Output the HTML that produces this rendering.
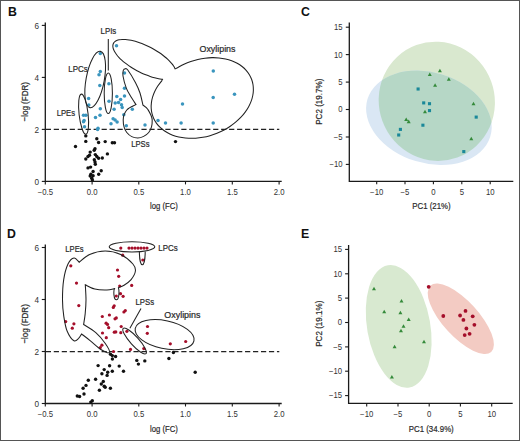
<!DOCTYPE html>
<html><head><meta charset="utf-8"><style>
html,body{margin:0;padding:0;background:#fff;}
svg{display:block;}
</style></head><body>
<svg width="520" height="441" viewBox="0 0 520 441" font-family="Liberation Sans, sans-serif">
<rect x="0" y="0" width="520" height="441" fill="#fff"/>
<text x="8.0" y="15.9" font-size="12.3" text-anchor="start" fill="#111" font-weight="bold" >B</text>
<text x="301.0" y="15.9" font-size="12.3" text-anchor="start" fill="#111" font-weight="bold" >C</text>
<text x="7.0" y="237.9" font-size="12.3" text-anchor="start" fill="#111" font-weight="bold" >D</text>
<text x="301.0" y="237.9" font-size="12.3" text-anchor="start" fill="#111" font-weight="bold" >E</text>
<path d="M45.3,22.400000000000006 V181.4 H281.7" fill="none" stroke="#1a1a1a" stroke-width="1.3"/>
<line x1="41.8" y1="181.4" x2="45.3" y2="181.4" stroke="#1a1a1a" stroke-width="1.1"/>
<line x1="41.8" y1="129.4" x2="45.3" y2="129.4" stroke="#1a1a1a" stroke-width="1.1"/>
<line x1="41.8" y1="77.4" x2="45.3" y2="77.4" stroke="#1a1a1a" stroke-width="1.1"/>
<line x1="41.8" y1="25.400000000000006" x2="45.3" y2="25.400000000000006" stroke="#1a1a1a" stroke-width="1.1"/>
<line x1="45.3" y1="181.4" x2="45.3" y2="184.4" stroke="#1a1a1a" stroke-width="1.1"/>
<line x1="92.1" y1="181.4" x2="92.1" y2="184.4" stroke="#1a1a1a" stroke-width="1.1"/>
<line x1="138.8" y1="181.4" x2="138.8" y2="184.4" stroke="#1a1a1a" stroke-width="1.1"/>
<line x1="185.5" y1="181.4" x2="185.5" y2="184.4" stroke="#1a1a1a" stroke-width="1.1"/>
<line x1="232.3" y1="181.4" x2="232.3" y2="184.4" stroke="#1a1a1a" stroke-width="1.1"/>
<line x1="279.1" y1="181.4" x2="279.1" y2="184.4" stroke="#1a1a1a" stroke-width="1.1"/>
<text x="39" y="184.70000000000002" font-size="8.2" text-anchor="end" fill="#333" font-weight="normal" >0</text>
<text x="39" y="132.70000000000002" font-size="8.2" text-anchor="end" fill="#333" font-weight="normal" >2</text>
<text x="39" y="80.7" font-size="8.2" text-anchor="end" fill="#333" font-weight="normal" >4</text>
<text x="39" y="28.700000000000006" font-size="8.2" text-anchor="end" fill="#333" font-weight="normal" >6</text>
<text transform="translate(45.3,195.20000000000002) scale(0.95,1)" font-size="8.2" text-anchor="middle" fill="#333" font-weight="normal" >−0.5</text>
<text transform="translate(92.1,195.20000000000002) scale(0.95,1)" font-size="8.2" text-anchor="middle" fill="#333" font-weight="normal" >0.0</text>
<text transform="translate(138.8,195.20000000000002) scale(0.95,1)" font-size="8.2" text-anchor="middle" fill="#333" font-weight="normal" >0.5</text>
<text transform="translate(185.5,195.20000000000002) scale(0.95,1)" font-size="8.2" text-anchor="middle" fill="#333" font-weight="normal" >1.0</text>
<text transform="translate(232.3,195.20000000000002) scale(0.95,1)" font-size="8.2" text-anchor="middle" fill="#333" font-weight="normal" >1.5</text>
<text transform="translate(279.1,195.20000000000002) scale(0.95,1)" font-size="8.2" text-anchor="middle" fill="#333" font-weight="normal" >2.0</text>
<text x="149.95000000000002" y="209.4" font-size="9.8" textLength="27.9" lengthAdjust="spacingAndGlyphs" fill="#2a2a2a" stroke="#2a2a2a" stroke-width="0.22">log (FC)</text>
<text transform="translate(28.1,101.80000000000001) rotate(-90)" x="-19.7" y="0" font-size="9.8" textLength="39.4" lengthAdjust="spacingAndGlyphs" fill="#2a2a2a" stroke="#2a2a2a" stroke-width="0.22">−log (FDR)</text>
<line x1="45.8" y1="129.4" x2="279.3" y2="129.4" stroke="#222" stroke-width="1.25" stroke-dasharray="5.2 2.77"/>
<circle cx="116.5" cy="45.8" r="1.75" fill="#3a95be"/>
<circle cx="100.3" cy="53.5" r="1.75" fill="#3a95be"/>
<circle cx="100.3" cy="71.5" r="1.75" fill="#3a95be"/>
<circle cx="99.0" cy="74.8" r="1.75" fill="#3a95be"/>
<circle cx="108.9" cy="83.8" r="1.75" fill="#3a95be"/>
<circle cx="99.8" cy="85.5" r="1.75" fill="#3a95be"/>
<circle cx="124.5" cy="73.1" r="1.75" fill="#3a95be"/>
<circle cx="124.5" cy="88.3" r="1.75" fill="#3a95be"/>
<circle cx="124.5" cy="95.9" r="1.75" fill="#3a95be"/>
<circle cx="88.6" cy="98.4" r="1.75" fill="#3a95be"/>
<circle cx="88.8" cy="105.1" r="1.75" fill="#3a95be"/>
<circle cx="109" cy="101.3" r="1.75" fill="#3a95be"/>
<circle cx="116.8" cy="96.6" r="1.75" fill="#3a95be"/>
<circle cx="120.6" cy="99.4" r="1.75" fill="#3a95be"/>
<circle cx="115.2" cy="103" r="1.75" fill="#3a95be"/>
<circle cx="118.5" cy="102.5" r="1.75" fill="#3a95be"/>
<circle cx="121.5" cy="104.8" r="1.75" fill="#3a95be"/>
<circle cx="122.2" cy="107.4" r="1.75" fill="#3a95be"/>
<circle cx="114.1" cy="109.3" r="1.75" fill="#3a95be"/>
<circle cx="132.3" cy="109.3" r="1.75" fill="#3a95be"/>
<circle cx="100.3" cy="108.8" r="1.75" fill="#3a95be"/>
<circle cx="100" cy="115.2" r="1.75" fill="#3a95be"/>
<circle cx="95.5" cy="117.6" r="1.75" fill="#3a95be"/>
<circle cx="83.5" cy="115.3" r="1.75" fill="#3a95be"/>
<circle cx="85.9" cy="115.3" r="1.75" fill="#3a95be"/>
<circle cx="84.1" cy="120.4" r="1.75" fill="#3a95be"/>
<circle cx="83.5" cy="121.7" r="1.75" fill="#3a95be"/>
<circle cx="84.5" cy="126.8" r="1.75" fill="#3a95be"/>
<circle cx="113.1" cy="118.8" r="1.75" fill="#3a95be"/>
<circle cx="115.1" cy="120.1" r="1.75" fill="#3a95be"/>
<circle cx="117.1" cy="122" r="1.75" fill="#3a95be"/>
<circle cx="111" cy="123.7" r="1.75" fill="#3a95be"/>
<circle cx="98" cy="128.2" r="1.75" fill="#3a95be"/>
<circle cx="97.6" cy="129.5" r="1.75" fill="#3a95be"/>
<circle cx="123.8" cy="114.7" r="1.75" fill="#3a95be"/>
<circle cx="126.3" cy="125.8" r="1.75" fill="#3a95be"/>
<circle cx="213.3" cy="71.0" r="1.75" fill="#3a95be"/>
<circle cx="213.2" cy="97.5" r="1.75" fill="#3a95be"/>
<circle cx="234.5" cy="94.3" r="1.75" fill="#3a95be"/>
<circle cx="182.5" cy="104" r="1.75" fill="#3a95be"/>
<circle cx="158" cy="120.5" r="1.75" fill="#3a95be"/>
<circle cx="165.5" cy="123" r="1.75" fill="#3a95be"/>
<circle cx="181.1" cy="122.9" r="1.75" fill="#3a95be"/>
<circle cx="213.2" cy="122.9" r="1.75" fill="#3a95be"/>
<circle cx="145" cy="125" r="1.75" fill="#3a95be"/>
<circle cx="85.8" cy="135.9" r="1.7" fill="#111"/>
<circle cx="85.8" cy="141.4" r="1.7" fill="#111"/>
<circle cx="75.5" cy="146.5" r="1.7" fill="#111"/>
<circle cx="96.8" cy="138.7" r="1.7" fill="#111"/>
<circle cx="98.6" cy="142.5" r="1.7" fill="#111"/>
<circle cx="105.2" cy="141.6" r="1.7" fill="#111"/>
<circle cx="112.3" cy="142.8" r="1.7" fill="#111"/>
<circle cx="114.5" cy="142.8" r="1.7" fill="#111"/>
<circle cx="95" cy="148.7" r="1.7" fill="#111"/>
<circle cx="94.2" cy="150.2" r="1.7" fill="#111"/>
<circle cx="90.2" cy="152.1" r="1.7" fill="#111"/>
<circle cx="89.5" cy="155.3" r="1.7" fill="#111"/>
<circle cx="95.3" cy="154.6" r="1.7" fill="#111"/>
<circle cx="96.8" cy="156.5" r="1.7" fill="#111"/>
<circle cx="88" cy="156.5" r="1.7" fill="#111"/>
<circle cx="85.8" cy="159" r="1.7" fill="#111"/>
<circle cx="98.6" cy="158.3" r="1.7" fill="#111"/>
<circle cx="102.3" cy="158" r="1.7" fill="#111"/>
<circle cx="107.4" cy="153.9" r="1.7" fill="#111"/>
<circle cx="94.3" cy="159.8" r="1.7" fill="#111"/>
<circle cx="95" cy="162" r="1.7" fill="#111"/>
<circle cx="95.3" cy="164.2" r="1.7" fill="#111"/>
<circle cx="88" cy="167.9" r="1.7" fill="#111"/>
<circle cx="90.6" cy="167.1" r="1.7" fill="#111"/>
<circle cx="93.1" cy="171.5" r="1.7" fill="#111"/>
<circle cx="101.2" cy="170.8" r="1.7" fill="#111"/>
<circle cx="98.7" cy="174.2" r="1.7" fill="#111"/>
<circle cx="90.9" cy="174.2" r="1.7" fill="#111"/>
<circle cx="93.1" cy="175.7" r="1.7" fill="#111"/>
<circle cx="90.2" cy="176" r="1.7" fill="#111"/>
<circle cx="91.7" cy="178.2" r="1.7" fill="#111"/>
<circle cx="92.4" cy="180" r="1.7" fill="#111"/>
<circle cx="175.5" cy="141.6" r="1.7" fill="#111"/>
<ellipse cx="0" cy="0" rx="4.5" ry="20.2" transform="translate(83.6,114.2) rotate(-6.5)" fill="none" stroke="#222" stroke-width="1.05"/>
<ellipse cx="0" cy="0" rx="9.1" ry="28.6" transform="translate(95.2,79.5) rotate(10.5)" fill="none" stroke="#222" stroke-width="1.05"/>
<ellipse cx="0" cy="0" rx="4.1" ry="20.3" transform="translate(108.3,93.2) rotate(0)" fill="none" stroke="#222" stroke-width="1.05"/>
<line x1="108.3" y1="39" x2="108.3" y2="70.5" stroke="#222" stroke-width="1.05"/>
<path d="M162.47,79.31 C161.83,79.22 159.96,79.00 158.64,78.75 C157.32,78.50 155.93,78.18 154.53,77.81 C153.13,77.43 151.67,77.00 150.22,76.50 C148.76,76.01 147.27,75.46 145.79,74.86 C144.31,74.26 142.81,73.60 141.34,72.91 C139.87,72.21 138.39,71.47 136.95,70.69 C135.51,69.92 134.08,69.09 132.71,68.25 C131.33,67.41 129.99,66.53 128.70,65.64 C127.42,64.75 126.17,63.83 125.01,62.90 C123.84,61.98 122.72,61.03 121.70,60.10 C120.67,59.16 119.71,58.21 118.84,57.28 C117.97,56.35 117.18,55.41 116.49,54.50 C115.80,53.60 115.19,52.70 114.69,51.83 C114.19,50.96 113.79,50.11 113.49,49.30 C113.19,48.50 112.99,47.71 112.90,46.98 C112.81,46.25 112.82,45.55 112.94,44.91 C113.05,44.26 113.27,43.66 113.60,43.12 C113.92,42.58 114.35,42.08 114.87,41.66 C115.39,41.23 116.02,40.85 116.73,40.55 C117.44,40.24 118.25,39.99 119.14,39.81 C120.03,39.63 121.01,39.52 122.05,39.47 C123.10,39.42 124.23,39.44 125.41,39.52 C126.59,39.60 127.85,39.75 129.15,39.97 C130.44,40.18 131.80,40.46 133.19,40.80 C134.57,41.14 136.00,41.55 137.45,42.01 C138.89,42.46 140.37,42.99 141.85,43.56 C143.33,44.13 144.82,44.75 146.30,45.42 C147.78,46.09 149.27,46.81 150.72,47.57 C152.17,48.32 153.62,49.12 155.01,49.95 C156.41,50.77 157.78,51.64 159.10,52.52 C160.41,53.40 161.69,54.31 162.89,55.22 C164.09,56.14 165.25,57.08 166.32,58.01 C167.39,58.95 168.39,59.90 169.31,60.83 C170.23,61.77 171.07,62.71 171.81,63.63 C172.55,64.54 173.21,65.46 173.77,66.34 C174.33,67.22 174.92,68.48 175.15,68.91 L177.50,67.68 C178.58,67.11 181.76,65.30 183.98,64.27 C186.19,63.24 188.49,62.31 190.81,61.51 C193.12,60.70 195.50,60.01 197.86,59.46 C200.23,58.90 202.63,58.46 205.00,58.16 C207.37,57.86 209.76,57.68 212.09,57.64 C214.42,57.60 216.74,57.69 218.99,57.91 C221.23,58.13 223.44,58.48 225.55,58.96 C227.67,59.44 229.73,60.05 231.67,60.77 C233.61,61.50 235.48,62.35 237.21,63.31 C238.94,64.27 240.58,65.35 242.07,66.53 C243.56,67.70 244.93,68.99 246.15,70.36 C247.37,71.72 248.46,73.19 249.38,74.73 C250.30,76.26 251.08,77.88 251.68,79.55 C252.29,81.22 252.74,82.96 253.02,84.73 C253.31,86.50 253.42,88.33 253.37,90.17 C253.32,92.01 253.11,93.89 252.73,95.77 C252.35,97.64 251.80,99.54 251.09,101.40 C250.39,103.27 249.52,105.15 248.51,106.97 C247.50,108.80 246.32,110.62 245.02,112.37 C243.72,114.12 242.26,115.84 240.70,117.48 C239.13,119.12 237.42,120.72 235.63,122.21 C233.83,123.71 231.90,125.15 229.90,126.47 C227.90,127.80 225.79,129.05 223.64,130.18 C221.48,131.31 219.23,132.34 216.96,133.25 C214.68,134.16 212.34,134.97 209.99,135.64 C207.64,136.31 205.25,136.87 202.87,137.29 C200.50,137.71 198.10,138.01 195.74,138.17 C193.39,138.34 191.03,138.37 188.74,138.27 C186.45,138.17 184.18,137.94 182.00,137.59 C179.82,137.23 177.69,136.74 175.66,136.13 C173.63,135.51 171.67,134.77 169.84,133.92 C168.00,133.07 166.25,132.09 164.65,131.01 C163.04,129.94 161.54,128.74 160.19,127.46 C158.84,126.18 157.62,124.79 156.56,123.33 C155.49,121.88 154.57,120.32 153.82,118.71 C153.06,117.10 152.45,115.41 152.02,113.69 C151.58,111.96 151.31,110.16 151.21,108.35 C151.10,106.54 151.16,104.68 151.39,102.82 C151.61,100.95 152.01,99.06 152.56,97.19 C153.12,95.31 153.84,93.42 154.71,91.57 C155.58,89.72 156.61,87.87 157.78,86.08 C158.95,84.29 161.07,81.70 161.73,80.82 Z" fill="none" stroke="#222" stroke-width="1.05"/>
<path d="M136.00,104.60 C135.08,103.17 132.12,98.75 130.50,96.00 C128.88,93.25 127.55,91.43 126.30,88.10 C125.05,84.77 123.50,78.97 123.00,76.00 C122.50,73.03 122.90,71.52 123.30,70.30 C123.70,69.08 124.68,68.78 125.40,68.70 C126.12,68.62 125.93,67.52 127.60,69.80 C129.27,72.08 133.33,78.53 135.40,82.40 C137.47,86.27 138.75,89.23 140.00,93.00 C141.25,96.77 142.42,103.00 142.90,105.00 C143.73,105.75 146.35,107.00 147.90,109.50 C149.45,112.00 152.07,116.17 152.20,120.00 C152.33,123.83 151.12,129.50 148.70,132.50 C146.28,135.50 141.35,138.00 137.70,138.00 C134.05,138.00 129.22,135.50 126.80,132.50 C124.38,129.50 123.20,123.75 123.20,120.00 C123.20,116.25 124.67,112.57 126.80,110.00 C128.93,107.43 134.47,105.50 136.00,104.60 Z" fill="none" stroke="#222" stroke-width="1.05"/>
<text x="68.25" y="72" font-size="9" textLength="19.5" lengthAdjust="spacingAndGlyphs" fill="#2a2a2a" stroke="#2a2a2a" stroke-width="0.22">LPCs</text>
<text x="100.55" y="33.9" font-size="9" textLength="15.700000000000001" lengthAdjust="spacingAndGlyphs" fill="#2a2a2a" stroke="#2a2a2a" stroke-width="0.22">LPIs</text>
<text x="56.65" y="116" font-size="9" textLength="18.4" lengthAdjust="spacingAndGlyphs" fill="#2a2a2a" stroke="#2a2a2a" stroke-width="0.22">LPEs</text>
<text x="131.25" y="147" font-size="9" textLength="18.299999999999997" lengthAdjust="spacingAndGlyphs" fill="#2a2a2a" stroke="#2a2a2a" stroke-width="0.22">LPSs</text>
<text x="199.55" y="51.7" font-size="9" textLength="35.9" lengthAdjust="spacingAndGlyphs" fill="#2a2a2a" stroke="#2a2a2a" stroke-width="0.22">Oxylipins</text>
<path d="M45.3,244.5 V403.5 H281.7" fill="none" stroke="#1a1a1a" stroke-width="1.3"/>
<line x1="41.8" y1="403.5" x2="45.3" y2="403.5" stroke="#1a1a1a" stroke-width="1.1"/>
<line x1="41.8" y1="351.5" x2="45.3" y2="351.5" stroke="#1a1a1a" stroke-width="1.1"/>
<line x1="41.8" y1="299.5" x2="45.3" y2="299.5" stroke="#1a1a1a" stroke-width="1.1"/>
<line x1="41.8" y1="247.5" x2="45.3" y2="247.5" stroke="#1a1a1a" stroke-width="1.1"/>
<line x1="45.3" y1="403.5" x2="45.3" y2="406.5" stroke="#1a1a1a" stroke-width="1.1"/>
<line x1="92.1" y1="403.5" x2="92.1" y2="406.5" stroke="#1a1a1a" stroke-width="1.1"/>
<line x1="138.8" y1="403.5" x2="138.8" y2="406.5" stroke="#1a1a1a" stroke-width="1.1"/>
<line x1="185.5" y1="403.5" x2="185.5" y2="406.5" stroke="#1a1a1a" stroke-width="1.1"/>
<line x1="232.3" y1="403.5" x2="232.3" y2="406.5" stroke="#1a1a1a" stroke-width="1.1"/>
<line x1="279.1" y1="403.5" x2="279.1" y2="406.5" stroke="#1a1a1a" stroke-width="1.1"/>
<text x="39" y="406.8" font-size="8.2" text-anchor="end" fill="#333" font-weight="normal" >0</text>
<text x="39" y="354.8" font-size="8.2" text-anchor="end" fill="#333" font-weight="normal" >2</text>
<text x="39" y="302.8" font-size="8.2" text-anchor="end" fill="#333" font-weight="normal" >4</text>
<text x="39" y="250.8" font-size="8.2" text-anchor="end" fill="#333" font-weight="normal" >6</text>
<text transform="translate(45.3,417.3) scale(0.95,1)" font-size="8.2" text-anchor="middle" fill="#333" font-weight="normal" >−0.5</text>
<text transform="translate(92.1,417.3) scale(0.95,1)" font-size="8.2" text-anchor="middle" fill="#333" font-weight="normal" >0.0</text>
<text transform="translate(138.8,417.3) scale(0.95,1)" font-size="8.2" text-anchor="middle" fill="#333" font-weight="normal" >0.5</text>
<text transform="translate(185.5,417.3) scale(0.95,1)" font-size="8.2" text-anchor="middle" fill="#333" font-weight="normal" >1.0</text>
<text transform="translate(232.3,417.3) scale(0.95,1)" font-size="8.2" text-anchor="middle" fill="#333" font-weight="normal" >1.5</text>
<text transform="translate(279.1,417.3) scale(0.95,1)" font-size="8.2" text-anchor="middle" fill="#333" font-weight="normal" >2.0</text>
<text x="149.95000000000002" y="431.5" font-size="9.8" textLength="27.9" lengthAdjust="spacingAndGlyphs" fill="#2a2a2a" stroke="#2a2a2a" stroke-width="0.22">log (FC)</text>
<text transform="translate(28.1,323.9) rotate(-90)" x="-19.7" y="0" font-size="9.8" textLength="39.4" lengthAdjust="spacingAndGlyphs" fill="#2a2a2a" stroke="#2a2a2a" stroke-width="0.22">−log (FDR)</text>
<line x1="45.8" y1="351.5" x2="279.3" y2="351.5" stroke="#222" stroke-width="1.25" stroke-dasharray="5.2 2.77"/>
<circle cx="120.8" cy="248.1" r="1.6" fill="#a50e2a"/>
<circle cx="129" cy="248.1" r="1.6" fill="#a50e2a"/>
<circle cx="132" cy="248.1" r="1.6" fill="#a50e2a"/>
<circle cx="135" cy="248.1" r="1.6" fill="#a50e2a"/>
<circle cx="138" cy="248.1" r="1.6" fill="#a50e2a"/>
<circle cx="141" cy="248.1" r="1.6" fill="#a50e2a"/>
<circle cx="144" cy="248.1" r="1.6" fill="#a50e2a"/>
<circle cx="147" cy="248.1" r="1.6" fill="#a50e2a"/>
<circle cx="142.8" cy="260" r="1.6" fill="#a50e2a"/>
<circle cx="122.7" cy="255.2" r="1.6" fill="#a50e2a"/>
<circle cx="70.8" cy="265.8" r="1.6" fill="#a50e2a"/>
<circle cx="117.5" cy="270" r="1.6" fill="#a50e2a"/>
<circle cx="118.7" cy="276.3" r="1.6" fill="#a50e2a"/>
<circle cx="76.5" cy="283.1" r="1.6" fill="#a50e2a"/>
<circle cx="119.7" cy="286" r="1.6" fill="#a50e2a"/>
<circle cx="131.7" cy="285.4" r="1.6" fill="#a50e2a"/>
<circle cx="116.3" cy="296" r="1.6" fill="#a50e2a"/>
<circle cx="120.5" cy="293.7" r="1.6" fill="#a50e2a"/>
<circle cx="123.1" cy="296.3" r="1.6" fill="#a50e2a"/>
<circle cx="78.8" cy="305.6" r="1.6" fill="#a50e2a"/>
<circle cx="114.2" cy="305.8" r="1.6" fill="#a50e2a"/>
<circle cx="113.3" cy="307.4" r="1.6" fill="#a50e2a"/>
<circle cx="125.3" cy="310.6" r="1.6" fill="#a50e2a"/>
<circle cx="123.9" cy="312" r="1.6" fill="#a50e2a"/>
<circle cx="109.4" cy="315" r="1.6" fill="#a50e2a"/>
<circle cx="102.3" cy="316.5" r="1.6" fill="#a50e2a"/>
<circle cx="116.3" cy="317.9" r="1.6" fill="#a50e2a"/>
<circle cx="115" cy="318.8" r="1.6" fill="#a50e2a"/>
<circle cx="65.7" cy="321.6" r="1.6" fill="#a50e2a"/>
<circle cx="73.9" cy="323.8" r="1.6" fill="#a50e2a"/>
<circle cx="72.3" cy="328.2" r="1.6" fill="#a50e2a"/>
<circle cx="106.1" cy="323.2" r="1.6" fill="#a50e2a"/>
<circle cx="107.5" cy="324.4" r="1.6" fill="#a50e2a"/>
<circle cx="108.7" cy="327.7" r="1.6" fill="#a50e2a"/>
<circle cx="102.5" cy="333" r="1.6" fill="#a50e2a"/>
<circle cx="114.3" cy="332.2" r="1.6" fill="#a50e2a"/>
<circle cx="115.8" cy="331.9" r="1.6" fill="#a50e2a"/>
<circle cx="121.2" cy="326.5" r="1.6" fill="#a50e2a"/>
<circle cx="120.8" cy="332.7" r="1.6" fill="#a50e2a"/>
<circle cx="126.9" cy="331.3" r="1.6" fill="#a50e2a"/>
<circle cx="106.3" cy="337.7" r="1.6" fill="#a50e2a"/>
<circle cx="101.9" cy="345.2" r="1.6" fill="#a50e2a"/>
<circle cx="100.3" cy="347.6" r="1.6" fill="#a50e2a"/>
<circle cx="130.5" cy="349.4" r="1.6" fill="#a50e2a"/>
<circle cx="143.8" cy="348.6" r="1.6" fill="#a50e2a"/>
<circle cx="147.5" cy="326.5" r="1.6" fill="#a50e2a"/>
<circle cx="147.3" cy="333.3" r="1.6" fill="#a50e2a"/>
<circle cx="113.5" cy="351.5" r="1.6" fill="#a50e2a"/>
<circle cx="170.3" cy="343.8" r="1.6" fill="#a50e2a"/>
<circle cx="185.7" cy="341.5" r="1.6" fill="#a50e2a"/>
<circle cx="110.5" cy="354.3" r="1.7" fill="#111"/>
<circle cx="112.3" cy="355.6" r="1.7" fill="#111"/>
<circle cx="115.6" cy="356.5" r="1.7" fill="#111"/>
<circle cx="112.4" cy="359" r="1.7" fill="#111"/>
<circle cx="98.1" cy="365.6" r="1.7" fill="#111"/>
<circle cx="109.6" cy="365.8" r="1.7" fill="#111"/>
<circle cx="119.2" cy="366.1" r="1.7" fill="#111"/>
<circle cx="123.5" cy="371.3" r="1.7" fill="#111"/>
<circle cx="104.2" cy="369.6" r="1.7" fill="#111"/>
<circle cx="101.9" cy="373.8" r="1.7" fill="#111"/>
<circle cx="107.7" cy="372.3" r="1.7" fill="#111"/>
<circle cx="107.1" cy="375.4" r="1.7" fill="#111"/>
<circle cx="112.3" cy="371.3" r="1.7" fill="#111"/>
<circle cx="88.3" cy="380.2" r="1.7" fill="#111"/>
<circle cx="95.6" cy="379.2" r="1.7" fill="#111"/>
<circle cx="103.3" cy="381.5" r="1.7" fill="#111"/>
<circle cx="101.3" cy="384" r="1.7" fill="#111"/>
<circle cx="104.2" cy="386.3" r="1.7" fill="#111"/>
<circle cx="105.2" cy="387.3" r="1.7" fill="#111"/>
<circle cx="86" cy="385.4" r="1.7" fill="#111"/>
<circle cx="83.1" cy="388.3" r="1.7" fill="#111"/>
<circle cx="99.4" cy="390.2" r="1.7" fill="#111"/>
<circle cx="110.4" cy="388.3" r="1.7" fill="#111"/>
<circle cx="84" cy="394" r="1.7" fill="#111"/>
<circle cx="77.3" cy="396" r="1.7" fill="#111"/>
<circle cx="79.6" cy="396.5" r="1.7" fill="#111"/>
<circle cx="92.3" cy="400.8" r="1.7" fill="#111"/>
<circle cx="90.8" cy="402.1" r="1.7" fill="#111"/>
<circle cx="136.8" cy="360.4" r="1.7" fill="#111"/>
<circle cx="138.4" cy="364.1" r="1.7" fill="#111"/>
<circle cx="144.8" cy="360.9" r="1.7" fill="#111"/>
<circle cx="173.4" cy="352.5" r="1.7" fill="#111"/>
<circle cx="168.9" cy="358.5" r="1.7" fill="#111"/>
<circle cx="195.2" cy="372.3" r="1.7" fill="#111"/>
<ellipse cx="0" cy="0" rx="22.8" ry="5.1" transform="translate(132,246.8) rotate(0)" fill="none" stroke="#222" stroke-width="1.05"/>
<path d="M139.4,251.6 C139.4,258 140.5,264.8 142.3,264.8 C144.1,264.8 145.2,258 145.2,251.6" fill="none" stroke="#222" stroke-width="1.05"/>
<path d="M81.60,334.00 C81.13,334.68 80.07,336.97 78.80,338.10 C77.53,339.23 75.93,341.93 74.00,340.80 C72.07,339.67 68.90,335.38 67.20,331.30 C65.50,327.22 64.58,321.52 63.80,316.30 C63.02,311.08 62.52,306.12 62.50,300.00 C62.48,293.88 62.78,285.60 63.70,279.60 C64.62,273.60 66.28,267.60 68.00,264.00 C69.72,260.40 72.13,258.28 74.00,258.00 C75.87,257.72 78.33,261.58 79.20,262.30 C80.93,261.00 85.27,256.38 89.60,254.50 C93.93,252.62 100.02,251.00 105.20,251.00 C110.38,251.00 116.08,252.33 120.70,254.50 C125.32,256.67 130.45,261.25 132.90,264.00 C135.35,266.75 135.70,268.40 135.40,271.00 C135.10,273.60 133.00,277.23 131.10,279.60 C129.20,281.97 126.12,283.85 124.00,285.20 C121.88,286.55 119.33,287.28 118.40,287.70 C119.4,291 119.2,299.8 116.4,299.8 C113.6,299.8 113.4,291 114.5,288.6 C113.23,288.83 110.18,289.92 106.90,290.00 C103.62,290.08 98.40,289.97 94.80,289.10 C91.20,288.23 86.88,285.52 85.30,284.80 C85.42,287.33 86.02,295.20 86.00,300.00 C85.98,304.80 85.60,309.52 85.20,313.60 C84.80,317.68 83.87,322.68 83.60,324.50 C85.63,325.87 92.18,329.53 95.80,332.70 C99.42,335.87 103.03,340.22 105.30,343.50 C107.57,346.78 110.07,351.37 109.40,352.40 C108.73,353.43 104.47,351.63 101.30,349.70 C98.13,347.77 93.68,343.42 90.40,340.80 C87.12,338.18 83.07,335.13 81.60,334.00 Z" fill="none" stroke="#222" stroke-width="1.05"/>
<ellipse cx="0" cy="0" rx="17" ry="4.3" transform="translate(134.6,341) rotate(48)" fill="none" stroke="#222" stroke-width="1.05"/>
<line x1="141" y1="308.6" x2="129.9" y2="328.2" stroke="#222" stroke-width="1.05"/>
<ellipse cx="0" cy="0" rx="30" ry="14" transform="translate(164.6,334.6) rotate(12)" fill="none" stroke="#222" stroke-width="1.05"/>
<text x="65.35" y="252.1" font-size="9" textLength="18.2" lengthAdjust="spacingAndGlyphs" fill="#2a2a2a" stroke="#2a2a2a" stroke-width="0.22">LPEs</text>
<text x="158.25" y="251.1" font-size="9" textLength="19.4" lengthAdjust="spacingAndGlyphs" fill="#2a2a2a" stroke="#2a2a2a" stroke-width="0.22">LPCs</text>
<text x="135.45000000000002" y="305" font-size="9" textLength="18.599999999999998" lengthAdjust="spacingAndGlyphs" fill="#2a2a2a" stroke="#2a2a2a" stroke-width="0.22">LPSs</text>
<text x="164.35000000000002" y="317.7" font-size="9" textLength="36.1" lengthAdjust="spacingAndGlyphs" fill="#2a2a2a" stroke="#2a2a2a" stroke-width="0.22">Oxylipins</text>
<defs><clipPath id="gclip"><ellipse cx="0" cy="0" rx="57.9" ry="59.8" transform="translate(436.8,101.3) rotate(-20)"/></clipPath></defs>
<ellipse cx="0" cy="0" rx="57.9" ry="59.8" transform="translate(436.8,101.3) rotate(-20)" fill="#d9e8cf"/>
<ellipse cx="0" cy="0" rx="64.2" ry="45.3" transform="translate(428.9,117.8) rotate(17)" fill="#dae7f4"/>
<g clip-path="url(#gclip)"><ellipse cx="0" cy="0" rx="64.2" ry="45.3" transform="translate(428.9,117.8) rotate(17)" fill="#b6d7c6"/></g>
<path d="M349.3,22.4 V181.3 H513.3" fill="none" stroke="#1a1a1a" stroke-width="1.3"/>
<line x1="345.8" y1="27.2" x2="349.3" y2="27.2" stroke="#1a1a1a" stroke-width="1.1"/>
<line x1="345.8" y1="54.6" x2="349.3" y2="54.6" stroke="#1a1a1a" stroke-width="1.1"/>
<line x1="345.8" y1="82.1" x2="349.3" y2="82.1" stroke="#1a1a1a" stroke-width="1.1"/>
<line x1="345.8" y1="109.5" x2="349.3" y2="109.5" stroke="#1a1a1a" stroke-width="1.1"/>
<line x1="345.8" y1="137.0" x2="349.3" y2="137.0" stroke="#1a1a1a" stroke-width="1.1"/>
<line x1="345.8" y1="164.4" x2="349.3" y2="164.4" stroke="#1a1a1a" stroke-width="1.1"/>
<line x1="376.7" y1="181.3" x2="376.7" y2="184.3" stroke="#1a1a1a" stroke-width="1.1"/>
<line x1="405" y1="181.3" x2="405" y2="184.3" stroke="#1a1a1a" stroke-width="1.1"/>
<line x1="433.4" y1="181.3" x2="433.4" y2="184.3" stroke="#1a1a1a" stroke-width="1.1"/>
<line x1="461.8" y1="181.3" x2="461.8" y2="184.3" stroke="#1a1a1a" stroke-width="1.1"/>
<line x1="490.2" y1="181.3" x2="490.2" y2="184.3" stroke="#1a1a1a" stroke-width="1.1"/>
<text transform="translate(342.5,30.099999999999998) scale(0.93,1)" font-size="8.3" text-anchor="end" fill="#333" font-weight="normal" >15</text>
<text transform="translate(342.5,57.5) scale(0.93,1)" font-size="8.3" text-anchor="end" fill="#333" font-weight="normal" >10</text>
<text transform="translate(342.5,85.0) scale(0.93,1)" font-size="8.3" text-anchor="end" fill="#333" font-weight="normal" >5</text>
<text transform="translate(342.5,112.4) scale(0.93,1)" font-size="8.3" text-anchor="end" fill="#333" font-weight="normal" >0</text>
<text transform="translate(342.5,139.9) scale(0.93,1)" font-size="8.3" text-anchor="end" fill="#333" font-weight="normal" >−5</text>
<text transform="translate(342.5,167.3) scale(0.93,1)" font-size="8.3" text-anchor="end" fill="#333" font-weight="normal" >−10</text>
<text transform="translate(376.7,194.5) scale(0.95,1)" font-size="8.2" text-anchor="middle" fill="#333" font-weight="normal" >−10</text>
<text transform="translate(405,194.5) scale(0.95,1)" font-size="8.2" text-anchor="middle" fill="#333" font-weight="normal" >−5</text>
<text transform="translate(433.4,194.5) scale(0.95,1)" font-size="8.2" text-anchor="middle" fill="#333" font-weight="normal" >0</text>
<text transform="translate(461.8,194.5) scale(0.95,1)" font-size="8.2" text-anchor="middle" fill="#333" font-weight="normal" >5</text>
<text transform="translate(490.2,194.5) scale(0.95,1)" font-size="8.2" text-anchor="middle" fill="#333" font-weight="normal" >10</text>
<text x="412.25" y="208.9" font-size="9.8" textLength="38.4" lengthAdjust="spacingAndGlyphs" fill="#2a2a2a" stroke="#2a2a2a" stroke-width="0.22">PC1 (21%)</text>
<text transform="translate(321.9,101.7) rotate(-90)" x="-23.15" y="0" font-size="9.8" textLength="46.3" lengthAdjust="spacingAndGlyphs" fill="#2a2a2a" stroke="#2a2a2a" stroke-width="0.22">PC2 (19.7%)</text>
<path d="M439.9,68.7 L441.895,72.27 L437.905,72.27 Z" fill="#348a3a"/>
<path d="M429.8,72.5 L431.795,76.07 L427.805,76.07 Z" fill="#348a3a"/>
<path d="M448.8,77.30000000000001 L450.795,80.87 L446.805,80.87 Z" fill="#348a3a"/>
<path d="M435.1,83.30000000000001 L437.095,86.87 L433.105,86.87 Z" fill="#348a3a"/>
<path d="M425.0,109.80000000000001 L426.995,113.37 L423.005,113.37 Z" fill="#348a3a"/>
<path d="M406.2,117.4 L408.195,120.97 L404.205,120.97 Z" fill="#348a3a"/>
<path d="M408.7,119.60000000000001 L410.695,123.17 L406.705,123.17 Z" fill="#348a3a"/>
<path d="M473.5,101.80000000000001 L475.495,105.37 L471.505,105.37 Z" fill="#348a3a"/>
<path d="M471.3,136.8 L473.295,140.37 L469.305,140.37 Z" fill="#348a3a"/>
<rect x="416.55" y="87.45" width="3.1" height="3.1" fill="#1a8899"/>
<rect x="422.15" y="101.35000000000001" width="3.1" height="3.1" fill="#1a8899"/>
<rect x="427.95" y="102.15" width="3.1" height="3.1" fill="#1a8899"/>
<rect x="427.95" y="109.05" width="3.1" height="3.1" fill="#1a8899"/>
<rect x="421.34999999999997" y="123.65" width="3.1" height="3.1" fill="#1a8899"/>
<rect x="398.84999999999997" y="127.85000000000001" width="3.1" height="3.1" fill="#1a8899"/>
<rect x="397.15" y="133.45" width="3.1" height="3.1" fill="#1a8899"/>
<rect x="474.65" y="115.55" width="3.1" height="3.1" fill="#1a8899"/>
<rect x="462.25" y="150.04999999999998" width="3.1" height="3.1" fill="#1a8899"/>
<ellipse cx="0" cy="0" rx="31.6" ry="62" transform="translate(398.7,326.4) rotate(-10)" fill="#d8e9d0"/>
<ellipse cx="0" cy="0" rx="45" ry="17.8" transform="translate(460.8,318.8) rotate(47.5)" fill="#f3cbc3"/>
<path d="M348.6,245 V403.4 H512.7" fill="none" stroke="#1a1a1a" stroke-width="1.3"/>
<line x1="345.1" y1="249.4" x2="348.6" y2="249.4" stroke="#1a1a1a" stroke-width="1.1"/>
<line x1="345.1" y1="273.8" x2="348.6" y2="273.8" stroke="#1a1a1a" stroke-width="1.1"/>
<line x1="345.1" y1="298.1" x2="348.6" y2="298.1" stroke="#1a1a1a" stroke-width="1.1"/>
<line x1="345.1" y1="322.5" x2="348.6" y2="322.5" stroke="#1a1a1a" stroke-width="1.1"/>
<line x1="345.1" y1="346.9" x2="348.6" y2="346.9" stroke="#1a1a1a" stroke-width="1.1"/>
<line x1="345.1" y1="371.2" x2="348.6" y2="371.2" stroke="#1a1a1a" stroke-width="1.1"/>
<line x1="345.1" y1="395.6" x2="348.6" y2="395.6" stroke="#1a1a1a" stroke-width="1.1"/>
<line x1="366.7" y1="403.4" x2="366.7" y2="406.4" stroke="#1a1a1a" stroke-width="1.1"/>
<line x1="398" y1="403.4" x2="398" y2="406.4" stroke="#1a1a1a" stroke-width="1.1"/>
<line x1="429.2" y1="403.4" x2="429.2" y2="406.4" stroke="#1a1a1a" stroke-width="1.1"/>
<line x1="460.4" y1="403.4" x2="460.4" y2="406.4" stroke="#1a1a1a" stroke-width="1.1"/>
<line x1="491.7" y1="403.4" x2="491.7" y2="406.4" stroke="#1a1a1a" stroke-width="1.1"/>
<text transform="translate(342.1,252.1) scale(0.92,1)" font-size="8.4" text-anchor="end" fill="#333" font-weight="normal" >15</text>
<text transform="translate(342.1,276.5) scale(0.92,1)" font-size="8.4" text-anchor="end" fill="#333" font-weight="normal" >10</text>
<text transform="translate(342.1,300.8) scale(0.92,1)" font-size="8.4" text-anchor="end" fill="#333" font-weight="normal" >5</text>
<text transform="translate(342.1,325.2) scale(0.92,1)" font-size="8.4" text-anchor="end" fill="#333" font-weight="normal" >0</text>
<text transform="translate(342.1,349.59999999999997) scale(0.92,1)" font-size="8.4" text-anchor="end" fill="#333" font-weight="normal" >−5</text>
<text transform="translate(342.1,373.9) scale(0.92,1)" font-size="8.4" text-anchor="end" fill="#333" font-weight="normal" >−10</text>
<text transform="translate(342.1,398.3) scale(0.92,1)" font-size="8.4" text-anchor="end" fill="#333" font-weight="normal" >−15</text>
<text transform="translate(366.7,417.2) scale(0.95,1)" font-size="8.2" text-anchor="middle" fill="#333" font-weight="normal" >−10</text>
<text transform="translate(398,417.2) scale(0.95,1)" font-size="8.2" text-anchor="middle" fill="#333" font-weight="normal" >−5</text>
<text transform="translate(429.2,417.2) scale(0.95,1)" font-size="8.2" text-anchor="middle" fill="#333" font-weight="normal" >0</text>
<text transform="translate(460.4,417.2) scale(0.95,1)" font-size="8.2" text-anchor="middle" fill="#333" font-weight="normal" >5</text>
<text transform="translate(491.7,417.2) scale(0.95,1)" font-size="8.2" text-anchor="middle" fill="#333" font-weight="normal" >10</text>
<text x="408.75" y="431.8" font-size="9.8" textLength="45.0" lengthAdjust="spacingAndGlyphs" fill="#2a2a2a" stroke="#2a2a2a" stroke-width="0.22">PC1 (34.9%)</text>
<text transform="translate(321.9,323.7) rotate(-90)" x="-23.05" y="0" font-size="9.8" textLength="46.1" lengthAdjust="spacingAndGlyphs" fill="#2a2a2a" stroke="#2a2a2a" stroke-width="0.22">PC2 (19.1%)</text>
<path d="M374,286.7 L375.995,290.27000000000004 L372.005,290.27000000000004 Z" fill="#348a3a"/>
<path d="M401.5,298.9 L403.495,302.47 L399.505,302.47 Z" fill="#348a3a"/>
<path d="M384.2,309.79999999999995 L386.195,313.37 L382.205,313.37 Z" fill="#348a3a"/>
<path d="M400.4,310.79999999999995 L402.395,314.37 L398.405,314.37 Z" fill="#348a3a"/>
<path d="M408.7,317.5 L410.695,321.07000000000005 L406.705,321.07000000000005 Z" fill="#348a3a"/>
<path d="M403.5,324.2 L405.495,327.77000000000004 L401.505,327.77000000000004 Z" fill="#348a3a"/>
<path d="M401,328.79999999999995 L402.995,332.37 L399.005,332.37 Z" fill="#348a3a"/>
<path d="M394.6,344.79999999999995 L396.595,348.37 L392.605,348.37 Z" fill="#348a3a"/>
<path d="M424,339.79999999999995 L425.995,343.37 L422.005,343.37 Z" fill="#348a3a"/>
<path d="M391.9,375.0 L393.895,378.57000000000005 L389.905,378.57000000000005 Z" fill="#348a3a"/>
<circle cx="428.7" cy="286.8" r="1.9" fill="#a50e2a"/>
<circle cx="443.3" cy="316" r="1.9" fill="#a50e2a"/>
<circle cx="465.5" cy="310.9" r="1.9" fill="#a50e2a"/>
<circle cx="460.1" cy="315.5" r="1.9" fill="#a50e2a"/>
<circle cx="472.7" cy="316.3" r="1.9" fill="#a50e2a"/>
<circle cx="463.4" cy="319.9" r="1.9" fill="#a50e2a"/>
<circle cx="474.4" cy="324.8" r="1.9" fill="#a50e2a"/>
<circle cx="466.4" cy="328.5" r="1.9" fill="#a50e2a"/>
<circle cx="469.6" cy="333.8" r="1.9" fill="#a50e2a"/>
<circle cx="464.7" cy="335.1" r="1.9" fill="#a50e2a"/>
<rect x="0.5" y="0.5" width="519" height="440" fill="none" stroke="#555" stroke-width="1"/>
</svg>
</body></html>
